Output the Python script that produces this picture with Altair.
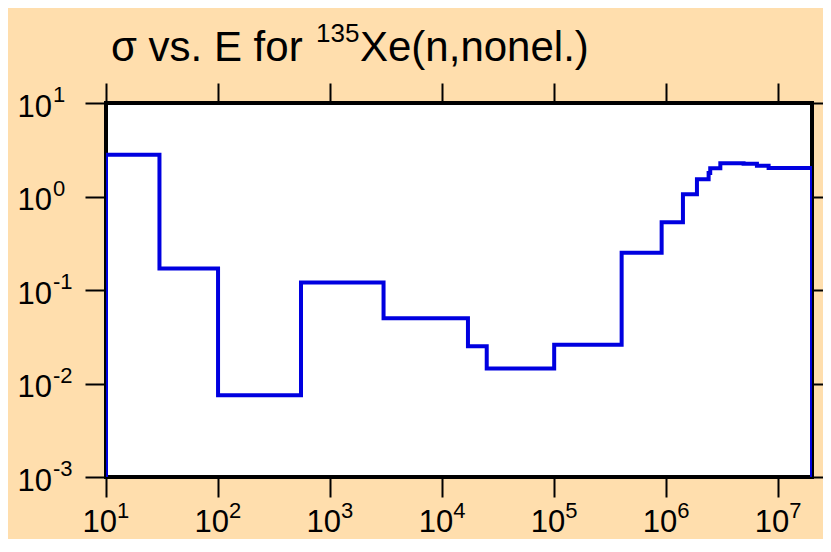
import altair as alt
import pandas as pd

# Step data: energy (eV) and cross section (b), step-after
energy = [10, 10, 30, 100, 550, 3000, 17000, 25000, 1e5, 4.0e5, 9.1e5, 1.41e6,
          1.88e6, 2.39e6, 2.47e6, 3.04e6, 4.9e6, 6.45e6, 8.2e6, 2e7, 2e7]
sigma = [0.001, 2.8, 0.17, 0.0075, 0.12, 0.05, 0.025, 0.0145, 0.026, 0.25, 0.53,
         1.06, 1.53, 1.78, 2.01, 2.27, 2.24, 2.13, 2.02, 2.02, 0.001]

x_exponents = [1, 2, 3, 4, 5, 6, 7]
y_exponents = [1, 0, -1, -2, -3]
label_base = "10"

title_main = "σ vs. E for"
title_sup = "135"
title_rest = "Xe(n,nonel.)"

FONT = "Liberation Sans, Arial, Helvetica, sans-serif"

line_df = pd.DataFrame({"E": energy, "sigma": sigma, "i": list(range(len(energy)))})
xt_df = pd.DataFrame({"E": [10.0 ** k for k in x_exponents],
                      "base": [label_base] * len(x_exponents),
                      "exp": [str(k) for k in x_exponents]})
yt_df = pd.DataFrame({"sigma": [10.0 ** k for k in y_exponents],
                      "base": [label_base] * len(y_exponents),
                      "exp": [str(k) for k in y_exponents]})

xscale = alt.Scale(type="log", domain=[10, 2e7], nice=False)
yscale = alt.Scale(type="log", domain=[1e-3, 10], nice=False)

xvals = [10.0 ** k for k in x_exponents]
yvals = [10.0 ** k for k in y_exponents]


def axis(orient, values, size):
    return alt.Axis(orient=orient, values=values, labels=False, ticks=True,
                    tickSize=size, tickWidth=2, tickColor="black",
                    domain=False, grid=False, title=None)


line = alt.Chart(line_df).mark_line(
    interpolate="step-after", color="#0000E0", strokeWidth=4, clip=True
).encode(
    x=alt.X("E:Q", scale=xscale, axis=axis("bottom", xvals, 20)),
    y=alt.Y("sigma:Q", scale=yscale, axis=axis("left", yvals, 21)),
    order="i:Q",
)

ghost = alt.Chart(line_df).mark_point(opacity=0).encode(
    x=alt.X("E:Q", scale=xscale, axis=axis("top", xvals, 20)),
    y=alt.Y("sigma:Q", scale=yscale, axis=axis("right", yvals, 19)),
)

x_base = alt.Chart(xt_df).mark_text(
    align="right", baseline="alphabetic", fontSize=31, font=FONT, color="black", dx=11
).encode(x=alt.X("E:Q", scale=xscale, axis=None), y=alt.value(429), text="base:N")

x_exp = alt.Chart(xt_df).mark_text(
    align="left", baseline="alphabetic", fontSize=22, font=FONT, color="black", dx=11
).encode(x=alt.X("E:Q", scale=xscale, axis=None), y=alt.value(414.5), text="exp:N")

y_base = alt.Chart(yt_df).mark_text(
    align="right", baseline="alphabetic", fontSize=31, font=FONT, color="black", dy=13.5
).encode(y=alt.Y("sigma:Q", scale=yscale, axis=None), x=alt.value(-54), text="base:N")

y_exp = alt.Chart(yt_df).mark_text(
    align="left", baseline="alphabetic", fontSize=22, font=FONT, color="black", dy=-1
).encode(y=alt.Y("sigma:Q", scale=yscale, axis=None), x=alt.value(-53), text="exp:N")

t1 = alt.Chart(pd.DataFrame({"t": [title_main]})).mark_text(
    align="left", baseline="alphabetic", fontSize=42, font=FONT, color="black"
).encode(x=alt.value(5), y=alt.value(-42), text="t:N")

t2 = alt.Chart(pd.DataFrame({"t": [title_sup]})).mark_text(
    align="left", baseline="alphabetic", fontSize=26, font=FONT, color="black"
).encode(x=alt.value(210), y=alt.value(-61), text="t:N")

t3 = alt.Chart(pd.DataFrame({"t": [title_rest]})).mark_text(
    align="left", baseline="alphabetic", fontSize=42, font=FONT, color="black"
).encode(x=alt.value(254), y=alt.value(-42), text="t:N")

chart = alt.layer(line, ghost, x_base, x_exp, y_base, y_exp, t1, t2, t3).properties(
    width=706, height=374,
    autosize=alt.AutoSizeParams(type="none"),
    padding={"left": 98, "top": 95, "right": 11, "bottom": 62},
    background="#FFDEAD",
).configure_view(
    stroke="black", strokeWidth=4, fill="white"
)

chart.save("out.html", embed_options={"renderer": "svg", "actions": False})
